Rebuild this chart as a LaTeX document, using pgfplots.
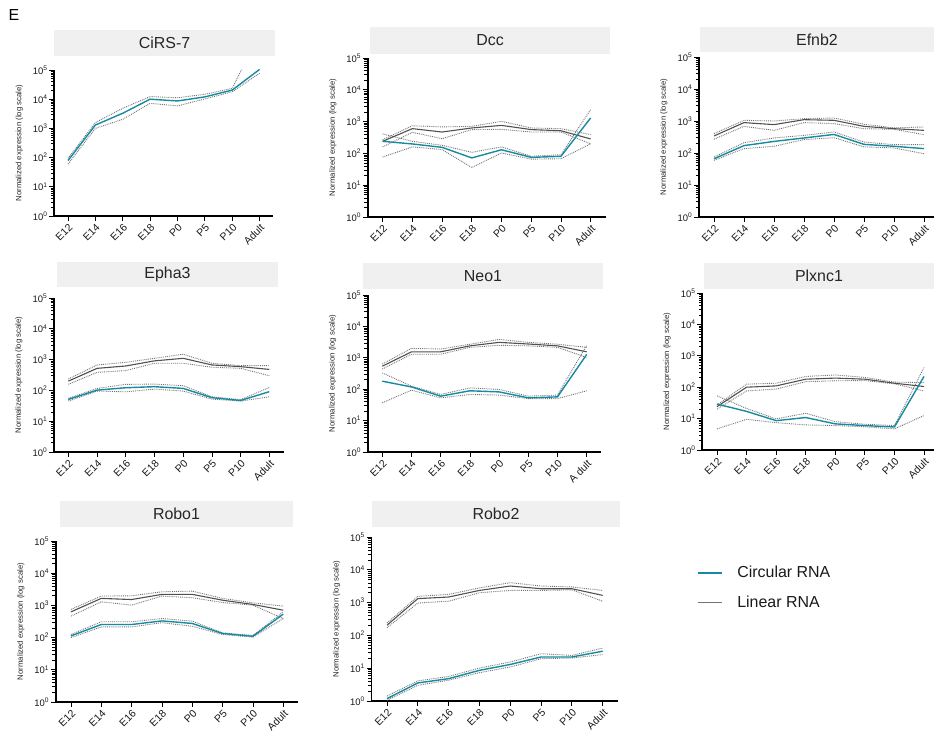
\documentclass[border=0pt]{standalone}
\usepackage{pgfplots}
\usepackage{pgfplotstable}
\pgfplotsset{compat=1.18}
\usepackage{fontspec}
\setmainfont{Liberation Sans}

\definecolor{circ}{RGB}{22,138,160}
\definecolor{lin}{RGB}{80,80,80}
\definecolor{bandc}{RGB}{115,115,115}
\definecolor{tbox}{RGB}{240,240,240}

% columns: stage index, circular mean/low/high, linear mean/low/high
\pgfplotstableread{
x c cl ch
0 79 60 94
1 1300 1000 1580
2 3300 2050 4900
3 10000 7200 12300
4 8700 5900 11200
5 12000 10200 14700
6 20500 18000 23500
7 105000 77000 1900000
}\cirs
\pgfplotstableread{
x c cl ch l ll lh
0 240 77 410 240 160 270
1 198 160 240 600 460 740
2 155 132 180 470 290 680
3 72 36 108 630 560 710
4 130 103 160 760 570 1020
5 75 66 81 560 470 630
6 81 68 91 515 470 600
7 1300 200 2400 285 200 390
}\dcc
\pgfplotstableread{
x c cl ch l ll lh
0 66 59 75 340 270 400
1 170 137 210 890 680 1050
2 230 162 295 770 510 1000
3 295 262 355 1100 890 1180
4 380 300 455 1050 830 1240
5 186 155 220 680 575 790
6 162 144 182 575 550 610
7 137 95 182 510 375 650
}\efnb
\pgfplotstableread{
x c cl ch l ll lh
0 51 45 55 200 158 235
1 102 95 116 520 385 670
2 122 90 157 620 440 815
3 132 110 160 910 760 1100
4 116 95 142 1100 760 1490
5 58 52 62 670 565 760
6 47 45 50 590 520 635
7 91 62 125 480 300 635
}\epha
\pgfplotstableread{
x c cl ch l ll lh
0 180 37 330 540 440 630
1 118 93 125 1550 1300 2000
2 60 53 68 1550 1300 1900
3 89 68 110 2400 2150 2700
4 82 65 98 3100 2500 3850
5 53 50 60 2750 2400 3100
6 57 50 65 2400 2150 2700
7 1280 89 2500 1550 1020 2150
}\neo
\pgfplotstableread{
x c cl ch l ll lh
0 29 4.7 53 24 20 27
1 17 9.5 21 100 76 125
2 8.6 7.4 9.8 110 87 134
3 10.8 6.3 14.8 180 150 220
4 6.8 6.0 8.0 195 160 245
5 6.0 5.5 6.6 180 163 205
6 5.4 4.7 6.0 134 128 145
7 220 12.5 425 105 76 140
}\plx
\pgfplotstableread{
x c cl ch l ll lh
0 113 100 125 630 465 750
1 255 215 310 1650 1290 1950
2 255 215 310 1520 1020 1990
3 330 290 390 2200 1950 2650
4 275 225 325 2200 1730 2770
5 134 125 140 1450 1230 1650
6 110 103 116 1070 1020 1200
7 535 390 630 710 390 950
}\roboA
\pgfplotstableread{
x c cl ch l ll lh
0 1.18 1.05 1.42 204 172 240
1 3.55 3.0 4.1 1320 970 1550
2 4.8 4.3 5.6 1480 1100 1780
3 8.6 7.3 10.1 2350 2000 2800
4 13 10.9 15.5 3200 2350 4050
5 22 19.5 27.6 2650 2350 3200
6 22 20.5 24.6 2650 2450 3000
7 33 26 41 1660 1100 2350
}\roboB

\pgfplotsset{
  genepanel/.style={
    scale only axis, anchor=north west,
    ymin=1, ymax=100000, xmin=-0.5, xmax=7.5,
    axis x line*=bottom, axis y line*=left,
    ytick={1,10,100,1000,10000,100000},
    yticklabels={10\textsuperscript{0},10\textsuperscript{1},10\textsuperscript{2},10\textsuperscript{3},10\textsuperscript{4},10\textsuperscript{5}},
    minor ytick={2,3,4,5,6,7,8,9,
      20,30,40,50,60,70,80,90,
      200,300,400,500,600,700,800,900,
      2000,3000,4000,5000,6000,7000,8000,9000,
      20000,30000,40000,50000,60000,70000,80000,90000},
    xtick={0,1,2,3,4,5,6,7},
    xticklabels={E12,E14,E16,E18,P0,P5,P10,Adult},
    x tick label style={rotate=45, anchor=north east, font=\fontsize{10.5}{11}\selectfont, inner sep=1.5bp, text=black!90},
    y tick label style={font=\fontsize{9.5}{10}\selectfont, inner sep=1.5bp, text=black!90},
    tick align=outside, major tick length=5bp, minor tick length=3.4bp,
    every tick/.style={black, line width=0.8bp},
    every minor tick/.style={black, line width=0.6bp},
    x axis line style={line width=1.2bp},
    y axis line style={line width=1.7bp},
    ylabel={Normalized expression (log scale)},
    ylabel style={font=\fontsize{7.8}{8}\selectfont, color=black!85},
    ylabel shift=5bp,
  },
  bandln/.style={bandc, densely dotted, line width=0.9bp, forget plot},
  linln/.style={lin, line width=1.1bp, forget plot},
  circln/.style={circ, line width=1.4bp, forget plot},
}

\newcommand\circonly[1]{%
  \addplot[bandln] table[x=x,y=ch]{#1};
  \addplot[bandln] table[x=x,y=cl]{#1};
  \addplot[circln] table[x=x,y=c]{#1};
}
\newcommand\both[1]{%
  \addplot[bandln] table[x=x,y=lh]{#1};
  \addplot[bandln] table[x=x,y=ll]{#1};
  \addplot[bandln] table[x=x,y=ch]{#1};
  \addplot[bandln] table[x=x,y=cl]{#1};
  \addplot[linln] table[x=x,y=l]{#1};
  \addplot[circln] table[x=x,y=c]{#1};
}
% grey title strip above each panel; y given from the top edge
\newcommand\ttl[5]{%
  \fill[tbox] ({#1bp},{(737-#2)*1bp}) rectangle ({#3bp},{(737-#4)*1bp});
  \node[font=\fontsize{16}{18}\selectfont, text=black!85] at ({(#1+#3)/2*1bp},{(737-(#2+#4)/2)*1bp}) {#5};
}

\begin{document}
\begin{tikzpicture}
\useasboundingbox (0,0) rectangle (934bp,737bp);

\node[font=\fontsize{16}{18}\selectfont, anchor=center] at (14bp,722bp) {E};

\ttl{54}{30}{275}{56}{CiRS-7}
\ttl{370}{27}{610}{54}{Dcc}
\ttl{700}{27}{934}{52}{Efnb2}
\ttl{57}{262}{278}{287}{Epha3}
\ttl{363}{263}{603}{289}{Neo1}
\ttl{704}{263}{934}{289}{Plxnc1}
\ttl{60}{501}{293}{527}{Robo1}
\ttl{372}{501}{620}{527}{Robo2}

% row 1
\begin{axis}[ymode=log, genepanel, at={(54.3bp,667bp)}, width=219bp, height=146bp]
  \circonly{\cirs}
\end{axis}
\begin{axis}[ymode=log, genepanel, at={(367.8bp,679bp)}, width=237.7bp, height=159bp]
  \both{\dcc}
\end{axis}
\begin{axis}[ymode=log, genepanel, at={(699bp,680bp)}, width=240bp, height=160bp]
  \both{\efnb}
\end{axis}

% row 2
\begin{axis}[ymode=log, genepanel, at={(54bp,439bp)}, width=229.7bp, height=154bp]
  \both{\epha}
\end{axis}
\begin{axis}[ymode=log, genepanel, at={(367.7bp,442bp)}, width=233.6bp, height=157bp,
    xticklabels={E12,E14,E16,E18,P0,P5,P10,A dult}]
  \both{\neo}
\end{axis}
\begin{axis}[ymode=log, genepanel, at={(702.2bp,444bp)}, width=236.6bp, height=157bp]
  \both{\plx}
\end{axis}

% row 3
\begin{axis}[ymode=log, genepanel, at={(55.8bp,196bp)}, width=242.6bp, height=161bp]
  \both{\roboA}
\end{axis}
\begin{axis}[ymode=log, genepanel, at={(371.6bp,200bp)}, width=246.5bp, height=164bp,
    legend style={draw=none, fill=none, at={(1.319,0.69)}, anchor=west,
      font=\fontsize{16}{18}\selectfont, row sep=17bp, column sep=0bp, inner sep=0pt,
      nodes={inner sep=0pt, text=black!90}},
    legend cell align=left,
    legend image code/.code={\draw[#1] (0bp,0bp) -- (24bp,0bp); \path (39bp,0bp);}]
  \both{\roboB}
  \addlegendimage{circ, line width=1.4bp}
  \addlegendentry{Circular RNA}
  \addlegendimage{black!55, line width=1.1bp}
  \addlegendentry{Linear RNA}
\end{axis}
\end{tikzpicture}
\end{document}
